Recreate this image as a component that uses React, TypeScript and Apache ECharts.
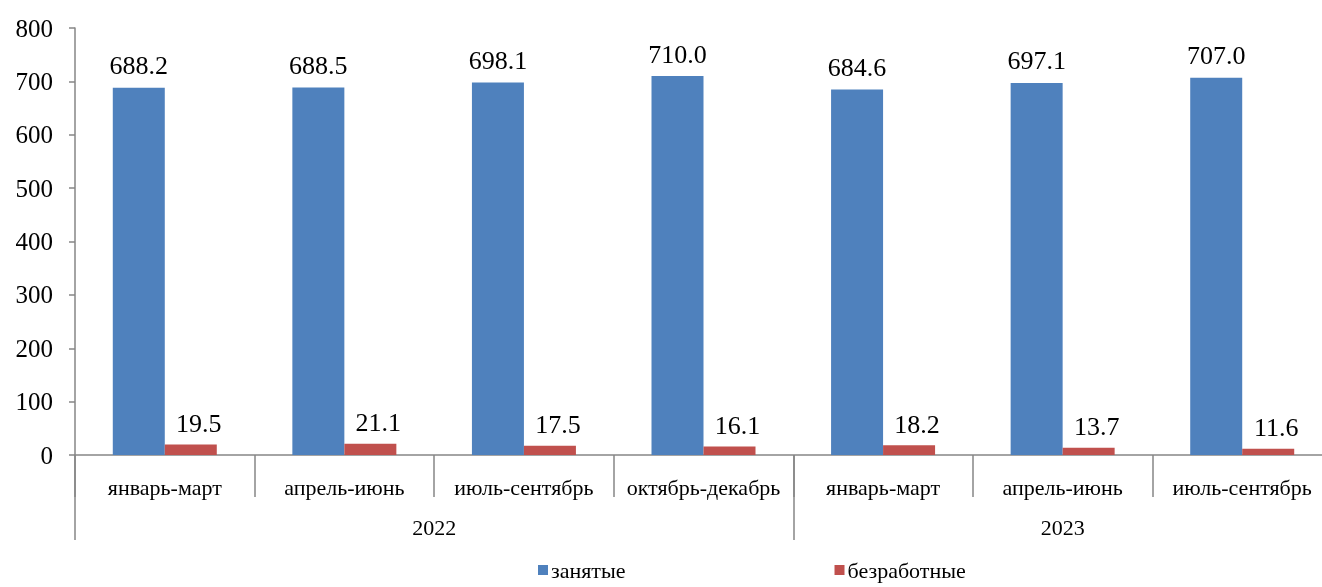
import React, { useEffect, useRef } from "react";
import * as echarts from "echarts";

const quarters = ["январь-март", "апрель-июнь", "июль-сентябрь", "октябрь-декабрь", "январь-март", "апрель-июнь", "июль-сентябрь"];
const years = ["2022", "2023"];
const yearSpans = [4, 3];
const employed = [688.2, 688.5, 698.1, 710.0, 684.6, 697.1, 707.0];
const unemployed = [19.5, 21.1, 17.5, 16.1, 18.2, 13.7, 11.6];
const seriesNames = ["занятые", "безработные"];

const FONT = "'Liberation Serif', 'Times New Roman', serif";
const AXIS = "#868686";

export default function App() {
  const ref = useRef<HTMLDivElement>(null);
  useEffect(() => {
    if (!ref.current) return;
    const chart = echarts.init(ref.current, undefined, { renderer: "svg" });
    const bounds: number[] = [0];
    yearSpans.forEach((s) => bounds.push(bounds[bounds.length - 1] + s));
    const centers = yearSpans.map((s, i) => bounds[i] + s / 2);
    chart.setOption({
      animation: false,
      textStyle: { fontFamily: FONT },
      legend: {
        left: 533,
        top: 556,
        padding: [2, 5, 2, 5],
        itemWidth: 10,
        itemHeight: 10,
        itemGap: 209,
        icon: "rect",
        textStyle: { fontFamily: FONT, fontSize: 22, lineHeight: 24, color: "#000", padding: [0, 0, 0, -2] },
        data: seriesNames,
      },
      grid: { left: 75, right: 0, top: 28, bottom: 132, containLabel: false },
      xAxis: [
        {
          type: "category",
          data: quarters,
          axisLine: { show: true, lineStyle: { color: AXIS, width: 1.5 } },
          axisTick: { show: true, interval: 0, length: 42, lineStyle: { color: AXIS, width: 1.5 } },
          axisLabel: { interval: 0, margin: 21, fontFamily: FONT, fontSize: 22, color: "#000" },
        },
        {
          type: "value",
          min: 0,
          max: quarters.length,
          position: "bottom",
          splitLine: { show: false },
          axisLine: { show: false },
          axisTick: { show: true, customValues: bounds, length: 85, lineStyle: { color: AXIS, width: 1.5 } },
          axisLabel: {
            customValues: centers,
            margin: 61,
            fontFamily: FONT,
            fontSize: 22,
            color: "#000",
            formatter: (v: number) => {
              const i = centers.findIndex((c) => Math.abs(c - v) < 1e-6);
              return i >= 0 ? years[i] : "";
            },
          },
        },
      ],
      yAxis: {
        type: "value",
        min: 0,
        max: 800,
        interval: 100,
        splitLine: { show: false },
        axisLine: { show: true, lineStyle: { color: AXIS, width: 1.5 } },
        axisTick: { show: true, inside: false, length: 6, lineStyle: { color: AXIS, width: 1.5 } },
        axisLabel: { margin: 22, fontFamily: FONT, fontSize: 25, color: "#000" },
      },
      series: [
        {
          name: seriesNames[0],
          type: "bar",
          data: employed,
          barWidth: 52,
          barGap: "0%",
          itemStyle: { color: "#4F81BD" },
          label: { show: true, position: "top", distance: 9, fontFamily: FONT, fontSize: 26, color: "#000", formatter: (p: any) => p.value.toFixed(1) },
        },
        {
          name: seriesNames[1],
          type: "bar",
          data: unemployed,
          barWidth: 52,
          barGap: "0%",
          itemStyle: { color: "#C0504D" },
          label: { show: true, position: "top", distance: 8, offset: [8, 0], fontFamily: FONT, fontSize: 26, color: "#000", formatter: (p: any) => p.value.toFixed(1) },
        },
      ],
    });
    return () => chart.dispose();
  }, []);
  return (
    <div style={{ position: "fixed", left: 0, top: 0, width: 1322, height: 587, overflow: "hidden" }}>
      <div ref={ref} style={{ width: 1332, height: 587 }} />
    </div>
  );
}
